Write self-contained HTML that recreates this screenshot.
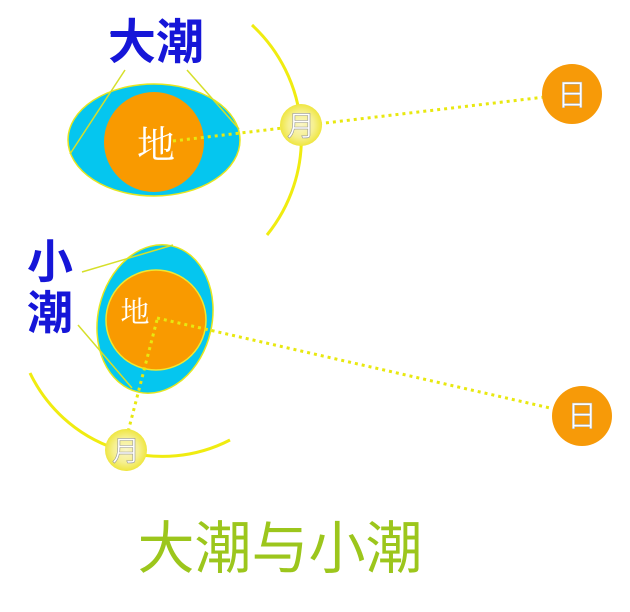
<!DOCTYPE html>
<html><head><meta charset="utf-8"><style>
html,body{margin:0;padding:0;background:#fff;}
svg{display:block;}
</style></head><body>
<svg width="630" height="612" viewBox="0 0 630 612" xmlns="http://www.w3.org/2000/svg">
<defs>
<radialGradient id="moon" cx="50%" cy="50%" r="50%">
<stop offset="0" stop-color="#faf6c8"/>
<stop offset="0.6" stop-color="#f6f090"/>
<stop offset="1" stop-color="#efe640"/>
</radialGradient>
</defs>
<rect width="630" height="612" fill="#fff"/>

<!-- top orbit arc -->
<path d="M252,25 A154,154 0 0 1 267,235" fill="none" stroke="#f0ec10" stroke-width="3"/>
<!-- top earth ellipse -->
<ellipse cx="154" cy="140" rx="86" ry="56" fill="#05c6ef" stroke="#e6e620" stroke-width="1.5"/>
<circle cx="154" cy="142" r="50" fill="#f99a00"/>
<line x1="125" y1="70" x2="70" y2="154" stroke="#d6df2a" stroke-width="1.5"/>
<line x1="187" y1="70" x2="239" y2="129" stroke="#d6df2a" stroke-width="1.5"/>
<line x1="110" y1="33" x2="153" y2="33" stroke="#334" stroke-width="1" stroke-dasharray="2 2"/>
<!-- top dotted -->
<line x1="173" y1="141" x2="545" y2="97" stroke="#e8e810" stroke-width="3" stroke-dasharray="3 4"/>
<!-- top moon -->
<circle cx="301" cy="125" r="21" fill="url(#moon)"/>
<!-- top sun -->
<circle cx="572" cy="94" r="30" fill="#f79a08"/>

<text x="156" y="43" font-family="'Liberation Sans','Noto Sans CJK SC',sans-serif" font-size="48" font-weight="bold" fill="#1616d8" text-anchor="middle" dominant-baseline="central">大潮</text>
<text x="156" y="146" font-family="'Liberation Serif','Noto Serif CJK SC',serif" font-size="38" fill="#fff" text-anchor="middle" dominant-baseline="central">地</text>
<text x="301" y="126" font-family="'Liberation Sans','Noto Sans CJK SC',sans-serif" font-size="28" fill="#fff" stroke="#999" stroke-width="0.6" text-anchor="middle" dominant-baseline="central">月</text>
<text x="572" y="96" font-family="'Liberation Sans','Noto Sans CJK SC',sans-serif" font-size="30" fill="#fff" stroke="#aaa" stroke-width="0.5" text-anchor="middle" dominant-baseline="central">日</text>

<!-- bottom orbit arc -->
<path d="M30,373 A147,147 0 0 0 230,440" fill="none" stroke="#f0ec10" stroke-width="3"/>
<!-- bottom earth -->
<ellipse cx="155" cy="319" rx="57" ry="75" transform="rotate(13 155 319)" fill="#05c6ef" stroke="#e6e620" stroke-width="1.5"/>
<circle cx="156" cy="320" r="50" fill="#f99a00" stroke="#f0e830" stroke-width="1.5"/>
<line x1="82" y1="272" x2="173" y2="245" stroke="#d6df2a" stroke-width="1.5"/>
<line x1="78" y1="325" x2="132" y2="388" stroke="#d6df2a" stroke-width="1.5"/>
<!-- bottom dotted -->
<line x1="157" y1="318" x2="550" y2="408" stroke="#e8e810" stroke-width="3" stroke-dasharray="3 4"/>
<line x1="157" y1="320" x2="128" y2="432" stroke="#e8e810" stroke-width="3" stroke-dasharray="3 4"/>
<circle cx="126" cy="450" r="21" fill="url(#moon)"/>
<circle cx="582" cy="416" r="30" fill="#f79a08"/>

<text x="50" y="262" font-family="'Liberation Sans','Noto Sans CJK SC',sans-serif" font-size="46" font-weight="bold" fill="#1616d8" text-anchor="middle" dominant-baseline="central">小</text>
<text x="50" y="313" font-family="'Liberation Sans','Noto Sans CJK SC',sans-serif" font-size="46" font-weight="bold" fill="#1616d8" text-anchor="middle" dominant-baseline="central">潮</text>
<text x="135" y="313" font-family="'Liberation Serif','Noto Serif CJK SC',serif" font-size="29" fill="#fff" text-anchor="middle" dominant-baseline="central">地</text>
<text x="126" y="451" font-family="'Liberation Sans','Noto Sans CJK SC',sans-serif" font-size="28" fill="#fff" stroke="#999" stroke-width="0.6" text-anchor="middle" dominant-baseline="central">月</text>
<text x="582" y="417" font-family="'Liberation Sans','Noto Sans CJK SC',sans-serif" font-size="30" fill="#fff" stroke="#aaa" stroke-width="0.5" text-anchor="middle" dominant-baseline="central">日</text>

<text x="280" y="549" font-family="'Liberation Sans','Noto Sans CJK SC',sans-serif" font-size="57" fill="#9cc61c" text-anchor="middle" dominant-baseline="central">大潮与小潮</text>
</svg>
</body></html>
